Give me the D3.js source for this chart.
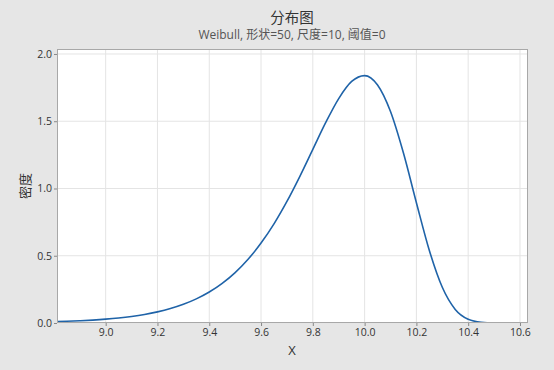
<!DOCTYPE html>
<html><head><meta charset="utf-8">
<script src="https://cdn.jsdelivr.net/npm/d3@7"></script>
<style>
html,body{margin:0;padding:0;background:#e6e6e6;}
svg{display:block;}
</style></head>
<body><svg id="c" width="554" height="370"></svg>
<script>
const xValues = [8.80,8.85,8.90,8.95,9.00,9.05,9.10,9.15,9.20,9.25,9.30,9.35,9.40,9.45,9.50,9.55,9.60,9.65,9.70,9.75,9.80,9.85,9.90,9.95,10.00,10.05,10.10,10.15,10.20,10.25,10.30,10.35,10.40,10.45,10.50,10.55];
const densityValues = [0.0095,0.0125,0.0165,0.0217,0.0285,0.0373,0.0488,0.0636,0.0828,0.1074,0.1390,0.1793,0.2304,0.2949,0.3750,0.4739,0.5941,0.7372,0.9039,1.0908,1.2909,1.4907,1.6686,1.7959,1.8394,1.7692,1.5720,1.2632,0.8940,0.5391,0.2656,0.1012,0.0280,0.0052,0.0006,0.0000];
const xTicks = [9.0,9.2,9.4,9.6,9.8,10.0,10.2,10.4,10.6];
const yTicks = [0.0,0.5,1.0,1.5,2.0];
const title = "分布图";
const subtitle = "Weibull, 形状=50, 尺度=10, 阈值=0";
const xLabel = "X";
const yLabel = "密度";

const svg = d3.select("#c");
const L=57,R=528,T=49,B=323;
const x = d3.scaleLinear().domain([8.812,10.631]).range([L,R]);
const y = d3.scaleLinear().domain([0,2.037]).range([B,T]);
const font = "'Open Sans','Noto Sans CJK SC',sans-serif";

svg.append("rect").attr("x",L).attr("y",T).attr("width",R-L).attr("height",B-T).attr("fill","#fff");

// grid
svg.append("g").selectAll("line").data(xTicks).join("line")
 .attr("x1",d=>x(d)).attr("x2",d=>x(d)).attr("y1",T).attr("y2",B)
 .attr("stroke","#e4e4e4").attr("stroke-width",1);
svg.append("g").selectAll("line").data(yTicks).join("line")
 .attr("y1",d=>y(d)).attr("y2",d=>y(d)).attr("x1",L).attr("x2",R)
 .attr("stroke","#e4e4e4").attr("stroke-width",1);

svg.append("clipPath").attr("id","cp").append("rect")
 .attr("x",L).attr("y",T).attr("width",R-L).attr("height",B-T);

const pts = xValues.map((v,i)=>[v,densityValues[i]]);
svg.append("path").datum(pts).attr("clip-path","url(#cp)")
 .attr("d",d3.line().x(d=>x(d[0])).y(d=>y(d[1])).curve(d3.curveMonotoneX))
 .attr("fill","none").attr("stroke","#1f63a8").attr("stroke-width",1.6);

svg.append("rect").attr("x",L+0.5).attr("y",T+0.5).attr("width",R-L-1).attr("height",B-T-1)
 .attr("fill","none").attr("stroke","#a8a8a8");

const xa = svg.append("g").attr("transform",`translate(0,${B})`)
 .call(d3.axisBottom(x).tickValues(xTicks).tickFormat(d3.format(".1f")).tickSize(3).tickSizeOuter(0));
const ya = svg.append("g").attr("transform",`translate(${L},0)`)
 .call(d3.axisLeft(y).tickValues(yTicks).tickFormat(d3.format(".1f")).tickSize(3).tickSizeOuter(0));
[xa,ya].forEach(a=>{
 a.select(".domain").remove();
 a.selectAll("line").attr("stroke","#888");
 a.selectAll("text").attr("font-family",font).attr("font-size",10.5).attr("fill","#333");
});
xa.selectAll("text").attr("dy","0.71em").attr("y",6);
ya.selectAll("text").attr("x",-5);

svg.append("text").attr("x",292).attr("y",23).attr("text-anchor","middle")
 .attr("font-family",font).attr("font-size",14.5).attr("fill","#333").text(title);
svg.append("text").attr("x",292).attr("y",39).attr("text-anchor","middle")
 .attr("font-family",font).attr("font-size",12).attr("fill","#555").text(subtitle);
svg.append("text").attr("x",292).attr("y",355).attr("text-anchor","middle")
 .attr("font-family",font).attr("font-size",13).attr("fill","#333").text(xLabel);
svg.append("text").attr("transform","translate(30,186) rotate(-90)").attr("text-anchor","middle")
 .attr("font-family",font).attr("font-size",13).attr("fill","#333").text(yLabel);
</script></body></html>
